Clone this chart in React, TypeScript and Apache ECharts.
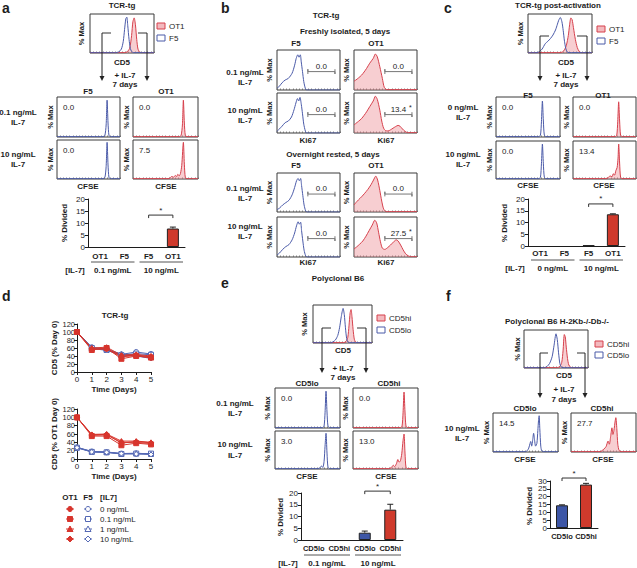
import React, { useEffect, useRef } from "react";
import * as echarts from "echarts";

const FONT = "'Liberation Sans', Arial, Helvetica, sans-serif";
const INK = "#1c1c1c";
const HIST_BLUE = "#4a5aa8";
const HIST_RED = "#d6404c";
const HIST_FILL = "rgba(233,128,136,0.55)";
const BAR_RED = "#cf3a2c";
const BAR_BLUE = "#3d56a6";
const MARK_RED = "#d7352d";
const MARK_BLUE = "#5468b4";

type Pt = [number, number];

// ================= Panel a =================
const aCd5F5: Pt[] = [[0,1],[40,1],[45,3],[49,10],[52,30],[54,60],[56,88],[57.5,92],[59,70],[61,35],[63,12],[65,4],[68,1],[100,1]];
const aCd5Ot1: Pt[] = [[0,1],[54,1],[58,3],[62,12],[65,45],[67,80],[69,90],[71,72],[73,35],[75,10],[78,2],[82,1],[100,1]];
const aCfseF5Low: Pt[] = [[0,1],[73,1],[76,4],[78,30],[79.5,92],[81,35],[82.5,4],[85,1],[100,1]];
const aCfseOt1Low: Pt[] = [[0,1],[71,1],[74,4],[76,30],[77.5,92],[79,35],[80.5,4],[83,1],[100,1]];
const aCfseF5High: Pt[] = [[0,1],[73,1],[76,4],[78,32],[79.5,94],[81,36],[82.5,4],[85,1],[100,1]];
const aCfseOt1High: Pt[] = [[0,1],[54,1],[57,3],[60,7],[62,4],[65,9],[67,6],[69,12],[71,8],[73,14],[75,35],[77.5,94],[79,38],[80.5,4],[83,1],[100,1]];
const aPercents = ["0.0", "0.0", "0.0", "7.5"];
const aBarCats = ["OT1", "F5", "F5", "OT1"];
const aBarValues = [0, 0, 0, 7.7];
const aBarErrors = [0, 0, 0, 0.6];
const aGroups = ["0.1 ng/mL", "10 ng/mL"];

// ================= Panel b =================
const bFreshF5Low: Pt[] = [[0,5],[3,8],[8,18],[13,25],[18,29],[24,42],[28,62],[30.5,79],[33,88],[35,82],[37,88],[38.5,70],[40.5,46],[42.5,21],[45,4],[47,0],[100,0]];
const bFreshF5High: Pt[] = [[0,4],[3,9],[8,17],[13,26],[18,30],[23,40],[27,58],[30,75],[32.5,86],[34.5,80],[36.5,89],[38.5,72],[40.5,48],[42.5,22],[45,5],[47,0],[100,0]];
const bFreshOt1Low: Pt[] = [[0,22],[3,25],[7,30],[12,37],[16,45],[20,54],[25,67],[30.5,79],[34,90],[37,83],[41,58],[45,29],[48,7],[52,1],[100,1]];
const bFreshOt1High: Pt[] = [[0,20],[3,24],[7,29],[12,36],[16,44],[20,53],[25,66],[30.5,80],[34,92],[37,84],[41,57],[44,30],[47,12],[50,6],[54,5],[58,8],[62,12],[66,16],[70,19],[73,17],[77,10],[81,4],[85,1],[100,1]];
const bRestF5Low: Pt[] = [[0,6],[4,10],[9,18],[14,24],[19,30],[24,44],[28,63],[31,80],[33.5,86],[35.5,80],[37.5,86],[39,68],[41,42],[43,18],[45.5,3],[48,0],[100,0]];
const bRestF5High: Pt[] = [[0,5],[4,10],[9,19],[14,26],[19,31],[24,43],[28,60],[31,78],[33.5,88],[35.5,82],[37.5,87],[39,66],[41,40],[43,17],[45.5,3],[48,0],[100,0]];
const bRestOt1Low: Pt[] = [[0,18],[3,24],[7,31],[12,39],[17,48],[22,58],[27,70],[31,82],[34.5,92],[37.5,82],[41,55],[44,28],[47,8],[51,1],[100,1]];
const bRestOt1High: Pt[] = [[0,20],[4,25],[9,32],[14,40],[19,52],[24,66],[29,80],[33,92],[36,85],[39,62],[42,38],[45,22],[49,19],[53,23],[58,30],[63,38],[67,43],[70,40],[74,30],[78,18],[82,8],[86,3],[90,1],[100,1]];
const bGate = [49, 92, 46];
const bFreshPercents = ["0.0", "0.0", "0.0", "13.4"];
const bRestPercents = ["0.0", "0.0", "0.0", "27.5"];

// ================= Panel c =================
const cCd5F5: Pt[] = [[0,1],[14,1],[18,4],[22,10],[27,24],[31,30],[35,37],[39,46],[43,59],[46,74],[48,84],[50.5,91],[53,80],[55,58],[57,30],[59,12],[61,3],[64,1],[100,1]];
const cCd5Ot1: Pt[] = [[0,1],[50,1],[54,3],[57,8],[60,20],[63,45],[65,72],[67,90],[69,85],[71,65],[74,35],[77,14],[80,4],[83,1],[100,1]];
const cCfseF5Low: Pt[] = [[0,1],[67,1],[69.5,5],[71,38],[72.5,90],[74,40],[75.5,5],[78,1],[100,1]];
const cCfseOt1Low: Pt[] = [[0,1],[67,1],[69.5,5],[71,38],[72.5,88],[74,40],[75.5,5],[78,1],[100,1]];
const cCfseF5High: Pt[] = [[0,1],[67,1],[69.5,5],[71,40],[72.5,92],[74,40],[75.5,5],[78,1],[100,1]];
const cCfseOt1High: Pt[] = [[0,1],[52,1],[56,4],[59,8],[62,6],[64,14],[66,10],[68,22],[70,30],[71.5,55],[72.5,92],[74,42],[75.5,5],[78,1],[100,1]];
const cPercents = ["0.0", "0.0", "0.0", "13.4"];
const cBarCats = ["OT1", "F5", "F5", "OT1"];
const cBarValues = [0, 0, 0.3, 13.5];
const cBarErrors = [0, 0, 0, 0.2];
const cGroups = ["0 ng/mL", "10 ng/mL"];

// ================= Panel d =================
const dDays = [0, 1, 2, 3, 4, 5];
const dTopOt1At0 = [100, 57, 58, 40, 42, 38];
const dTopOt1At01 = [100, 55, 60, 33, 40, 36];
const dTopOt1At1 = [100, 60, 62, 42, 44, 40];
const dTopOt1At10 = [100, 58, 57, 38, 41, 35];
const dTopF5At0 = [100, 62, 56, 44, 50, 45];
const dTopF5At01 = [100, 60, 55, 42, 46, 43];
const dTopF5At1 = [100, 61, 57, 45, 42, 38];
const dTopF5At10 = [100, 59, 54, 43, 40, 34];
const dBotOt1At0 = [100, 57, 58, 40, 40, 37];
const dBotOt1At01 = [100, 55, 55, 33, 38, 35];
const dBotOt1At1 = [100, 59, 60, 43, 43, 40];
const dBotOt1At10 = [100, 58, 59, 38, 42, 39];
const dBotF5At0 = [28, 18, 16, 13, 13, 12];
const dBotF5At01 = [27, 17, 16, 12, 13, 13];
const dBotF5At1 = [28, 18, 17, 13, 14, 12];
const dBotF5At10 = [27, 17, 16, 13, 12, 11];
const dDoses = ["0 ng/mL", "0.1 ng/mL", "1 ng/mL", "10 ng/mL"];
const dSymbols = ["circle", "rect", "triangle", "diamond"];

// ================= Panel e =================
const eCd5Lo: Pt[] = [[0,1],[30,1],[34,3],[38,8],[42,20],[45,40],[48,70],[51,91],[53,75],[55,40],[57,12],[59,3],[62,1],[100,1]];
const eCd5Hi: Pt[] = [[0,1],[52,1],[56,4],[59,15],[61,45],[63,80],[64.5,88],[66,70],[68,35],[70,10],[72,3],[75,1],[100,1]];
const eCfseLoLow: Pt[] = [[0,1],[73,1],[75.5,5],[77,38],[78.5,92],[80,40],[81.5,5],[84,1],[100,1]];
const eCfseHiLow: Pt[] = [[0,1],[73,1],[75.5,5],[77,38],[78.5,90],[80,40],[81.5,5],[84,1],[100,1]];
const eCfseLoHigh: Pt[] = [[0,1],[66,1],[69,3],[71.5,8],[73.5,4],[75.5,20],[77,60],[78.5,94],[80,42],[81.5,5],[84,1],[100,1]];
const eCfseHiHigh: Pt[] = [[0,1],[55,1],[59,4],[62,10],[64,6],[67,15],[69,25],[71,18],[73,22],[75,40],[77,75],[78.5,92],[80,42],[81.5,5],[84,1],[100,1]];
const ePercents = ["0.0", "0.0", "3.0", "13.0"];
const eBarCats = ["CD5lo", "CD5hi", "CD5lo", "CD5hi"];
const eBarValues = [0, 0, 3.1, 12.9];
const eBarErrors = [0, 0, 0.7, 2.3];
const eGroups = ["0.1 ng/mL", "10 ng/mL"];

// ================= Panel f =================
const fCd5Lo: Pt[] = [[0,1],[32,1],[36,4],[40,12],[44,30],[47,60],[50,90],[52,75],[54,40],[56,12],[58,3],[61,1],[100,1]];
const fCd5Hi: Pt[] = [[0,1],[52,1],[56,4],[59,15],[61,45],[63,88],[64.5,82],[66,55],[68,25],[70,8],[73,2],[76,1],[100,1]];
const fCfseLo: Pt[] = [[0,1],[50,1],[53,4],[55,10],[57,22],[58,27],[59.5,15],[61,30],[62.5,48],[64,30],[65.5,15],[67.5,22],[69,55],[70,80],[71,93],[72,60],[73.5,15],[75,3],[78,1],[100,1]];
const fCfseHi: Pt[] = [[0,1],[45,1],[48,4],[51,8],[54,14],[57,28],[59,20],[61,40],[63,62],[64.5,45],[66,55],[68,80],[69,88],[70.5,60],[72,20],[74,4],[77,1],[100,1]];
const fPercents = ["14.5", "27.7"];
const fBarCats = ["CD5lo", "CD5hi"];
const fBarValues = [14.5, 27.7];
const fBarErrors = [0.3, 0.8];

type Box = { l: number; t: number; w: number; h: number };

function buildOption() {
  const grids: any[] = [];
  const xAxis: any[] = [];
  const yAxis: any[] = [];
  const series: any[] = [];
  const g: any[] = [];

  const txt = (x: number, y: number, text: string, o: any = {}) => {
    const align = o.align ?? "center";
    g.push({
      type: "text", x, y, z: 100, silent: true,
      rotation: o.rot ? Math.PI / 2 : 0,
      style: {
        text, fill: o.color ?? INK, fontSize: o.size ?? 8,
        fontWeight: o.bold === false ? "normal" : "bold", fontFamily: FONT,
        align, textAlign: align, verticalAlign: "middle", textVerticalAlign: "middle",
      },
    });
  };
  const ln = (x1: number, y1: number, x2: number, y2: number, color = INK, w = 1) =>
    g.push({ type: "line", z: 100, silent: true, shape: { x1, y1, x2, y2 }, style: { stroke: color, lineWidth: w } });
  const poly = (points: number[][], fill: string) =>
    g.push({ type: "polygon", z: 100, silent: true, shape: { points }, style: { fill } });
  const rect = (x: number, y: number, w: number, h: number, fill: string, stroke: string) =>
    g.push({ type: "rect", z: 100, silent: true, shape: { x, y, width: w, height: h }, style: { fill, stroke, lineWidth: 1 } });

  const addHist = (box: Box, curves: { data: Pt[]; red: boolean }[], gate?: number[], maxOffset = 7) => {
    const gi = grids.length;
    grids.push({ left: box.l, top: box.t, width: box.w, height: box.h, show: true, borderColor: "#3a3a3a", borderWidth: 1, backgroundColor: "transparent" });
    xAxis.push({
      gridIndex: gi, type: "value", min: 0, max: 100, interval: 5,
      axisLine: { show: false }, axisLabel: { show: false }, splitLine: { show: false },
      axisTick: { show: true, inside: true, length: 1.5, lineStyle: { color: "#666", width: 0.8 } },
    });
    yAxis.push({ gridIndex: gi, type: "value", min: 0, max: 100, show: false });
    curves.forEach((c) => {
      series.push({
        type: "line", xAxisIndex: gi, yAxisIndex: gi, data: c.data, symbol: "none", smooth: 0.25, silent: true,
        lineStyle: { color: c.red ? HIST_RED : HIST_BLUE, width: 1 },
        areaStyle: c.red ? { color: HIST_FILL, origin: "start" } : undefined,
      });
    });
    if (gate) {
      const [g0, g1, lv] = gate;
      series.push({
        type: "line", xAxisIndex: gi, yAxisIndex: gi, symbol: "none", silent: true,
        lineStyle: { color: "#777", width: 1 },
        data: [[g0, lv - 6], [g0, lv + 6], [g0, lv], [g1, lv], [g1, lv - 6], [g1, lv + 6]],
      });
    }
    txt(box.l - maxOffset, box.t + box.h / 2, "% Max", { rot: true, size: 7.5 });
  };

  const pctTopLeft = (box: Box, s: string) => txt(box.l + 6, box.t + 10, s, { align: "left", bold: false, size: 8 });
  const pctGate = (box: Box, s: string, star: boolean) => {
    const [g0, g1, lv] = bGate;
    const x = box.l + box.w * ((g0 + g1) / 2) / 100;
    const y = box.t + box.h * (1 - (lv + 14) / 100);
    txt(x, y, s, { bold: false, size: 8 });
    if (star) txt(x + 12, y - 2, "*", { bold: false, size: 7 });
  };

  const errRender = (params: any, api: any) => {
    const i = api.value(0), v = api.value(1), e = api.value(2);
    const children: any[] = [];
    if (e > 0) {
      const p0 = api.coord([i, v]);
      const p1 = api.coord([i, v + e]);
      children.push({ type: "line", shape: { x1: p0[0], y1: p0[1], x2: p1[0], y2: p1[1] }, style: { stroke: "#222", lineWidth: 1 } });
      children.push({ type: "line", shape: { x1: p1[0] - 3, y1: p1[1], x2: p1[0] + 3, y2: p1[1] }, style: { stroke: "#222", lineWidth: 1 } });
    }
    return { type: "group", children };
  };

  const addBar = (box: Box, cats: string[], vals: number[], errs: number[], colors: string[], ymax: number, margin: number, catSize = 8) => {
    const gi = grids.length;
    grids.push({ left: box.l, top: box.t, width: box.w, height: box.h });
    xAxis.push({
      gridIndex: gi, type: "category", data: cats,
      axisLine: { lineStyle: { color: INK, width: 1 } }, axisTick: { show: false },
      axisLabel: { interval: 0, fontSize: catSize, fontWeight: "bold", color: INK, fontFamily: FONT, margin },
    });
    yAxis.push({
      gridIndex: gi, type: "value", min: 0, max: ymax, interval: 5,
      axisLine: { show: true, lineStyle: { color: INK } }, axisTick: { show: true, length: 3, lineStyle: { color: INK } },
      splitLine: { show: false }, axisLabel: { fontSize: 8, color: INK, fontFamily: FONT, margin: 3 },
    });
    series.push({
      type: "bar", xAxisIndex: gi, yAxisIndex: gi, barWidth: 12, silent: true,
      data: vals.map((v, i) => ({ value: v, itemStyle: { color: colors[i], borderColor: "#222", borderWidth: v > 0 ? 1 : 0 } })),
    });
    series.push({
      type: "custom", xAxisIndex: gi, yAxisIndex: gi, silent: true, z: 5,
      data: vals.map((v, i) => [i, v, errs[i]]), renderItem: errRender,
    });
  };

  const catX = (box: Box, n: number, i: number) => box.l + ((i + 0.5) * box.w) / n;
  const bracket = (box: Box, n: number, i1: number, i2: number, level: number, ymax: number) => {
    const x1 = catX(box, n, i1), x2 = catX(box, n, i2);
    const y = box.t + box.h * (1 - level / ymax);
    ln(x1, y + 3, x1, y, "#333");
    ln(x1, y, x2, y, "#333");
    ln(x2, y, x2, y + 3, "#333");
    txt((x1 + x2) / 2, y - 5, "*", { bold: false, size: 8 });
  };
  const groups = (box: Box, n: number, labels: string[], dy: number) => {
    const cw = box.w / n;
    const y = box.t + box.h + dy;
    labels.forEach((lab, k) => {
      const a = box.l + k * 2 * cw + 3, b = box.l + (k * 2 + 2) * cw - 2;
      ln(a, y, b, y, "#555");
      txt((a + b) / 2, y + 8, lab);
    });
    txt(box.l - 13, y + 8, "[IL-7]");
  };

  const gateArrows = (xl: number, xle: number, xrs: number, xr: number, y: number, tip: number) => {
    ln(xl, y, xle, y, "#333"); ln(xl, y, xl, tip - 4, "#222");
    poly([[xl - 2.5, tip - 5], [xl + 2.5, tip - 5], [xl, tip]], "#222");
    ln(xrs, y, xr, y, "#333"); ln(xr, y, xr, tip - 4, "#222");
    poly([[xr - 2.5, tip - 5], [xr + 2.5, tip - 5], [xr, tip]], "#222");
  };
  const legend2 = (x: number, y1: number, y2: number, redLabel: string, blueLabel: string) => {
    rect(x, y1, 8, 6, HIST_FILL, HIST_RED);
    rect(x, y2, 8, 6, "#fff", HIST_BLUE);
    txt(x + 12, y1 + 3, redLabel, { align: "left", bold: false });
    txt(x + 12, y2 + 3, blueLabel, { align: "left", bold: false });
  };

  // ---------------- Panel a ----------------
  txt(2, 8, "a", { align: "left", size: 14 });
  txt(122, 5, "TCR-tg");
  addHist({ l: 90, t: 14, w: 64, h: 39 }, [{ data: aCd5Ot1, red: true }, { data: aCd5F5, red: false }], undefined, 9);
  legend2(157, 23, 35, "OT1", "F5");
  txt(122, 62, "CD5");
  gateArrows(102, 111, 138, 147, 33, 81);
  txt(125, 75, "+ IL-7"); txt(125, 84, "7 days");
  txt(88, 91, "F5"); txt(166, 91, "OT1");
  const aBoxes: Box[] = [
    { l: 57, t: 97, w: 63, h: 40 }, { l: 133, t: 97, w: 65, h: 40 },
    { l: 57, t: 140, w: 63, h: 39 }, { l: 133, t: 140, w: 65, h: 39 },
  ];
  const aCurves = [aCfseF5Low, aCfseOt1Low, aCfseF5High, aCfseOt1High];
  aBoxes.forEach((b, i) => { addHist(b, [{ data: aCurves[i], red: i % 2 === 1 }]); pctTopLeft(b, aPercents[i]); });
  txt(18, 112, "0.1 ng/mL"); txt(18, 122, "IL-7");
  txt(18, 154, "10 ng/mL"); txt(18, 164, "IL-7");
  txt(88, 186, "CFSE"); txt(166, 186, "CFSE");
  const aBar: Box = { l: 88, t: 199, w: 97, h: 48 };
  addBar(aBar, aBarCats, aBarValues, aBarErrors, [BAR_RED, BAR_BLUE, BAR_BLUE, BAR_RED], 20, 5);
  txt(64, 223, "% Divided", { rot: true });
  bracket(aBar, 4, 2, 3, 13.3, 20);
  groups(aBar, 4, aGroups, 15);

  // ---------------- Panel b ----------------
  txt(221, 8, "b", { align: "left", size: 14 });
  txt(326, 15, "TCR-tg");
  txt(345, 31, "Freshly isolated, 5 days");
  txt(296, 43, "F5"); txt(376, 43, "OT1");
  const bFreshBoxes: Box[] = [
    { l: 277, t: 50, w: 63, h: 40 }, { l: 354, t: 50, w: 63, h: 40 },
    { l: 277, t: 93, w: 63, h: 40 }, { l: 354, t: 93, w: 63, h: 40 },
  ];
  const bFreshCurves = [bFreshF5Low, bFreshOt1Low, bFreshF5High, bFreshOt1High];
  bFreshBoxes.forEach((b, i) => {
    addHist(b, [{ data: bFreshCurves[i], red: i % 2 === 1 }], bGate, 8);
    pctGate(b, bFreshPercents[i], i === 3);
  });
  txt(245, 72, "0.1 ng/mL"); txt(245, 82, "IL-7");
  txt(245, 110, "10 ng/mL"); txt(245, 120, "IL-7");
  txt(308, 140, "Ki67"); txt(386, 140, "Ki67");
  txt(333, 154, "Overnight rested, 5 days");
  txt(296, 165, "F5"); txt(376, 165, "OT1");
  const bRestBoxes: Box[] = [
    { l: 277, t: 173, w: 63, h: 39 }, { l: 354, t: 173, w: 63, h: 39 },
    { l: 277, t: 217, w: 63, h: 40 }, { l: 354, t: 217, w: 63, h: 40 },
  ];
  const bRestCurves = [bRestF5Low, bRestOt1Low, bRestF5High, bRestOt1High];
  bRestBoxes.forEach((b, i) => {
    addHist(b, [{ data: bRestCurves[i], red: i % 2 === 1 }], bGate, 8);
    pctGate(b, bRestPercents[i], i === 3);
  });
  txt(245, 188, "0.1 ng/mL"); txt(245, 198, "IL-7");
  txt(245, 226, "10 ng/mL"); txt(245, 236, "IL-7");
  txt(308, 262, "Ki67"); txt(386, 262, "Ki67");

  // ---------------- Panel c ----------------
  txt(444, 8, "c", { align: "left", size: 14 });
  txt(558, 5, "TCR-tg post-activation");
  addHist({ l: 528, t: 14, w: 64, h: 39 }, [{ data: cCd5Ot1, red: true }, { data: cCd5F5, red: false }], undefined, 8);
  legend2(597, 26, 38, "OT1", "F5");
  txt(566, 62, "CD5");
  gateArrows(540, 549, 577, 587, 36, 81);
  txt(566, 75, "+ IL-7"); txt(566, 84, "7 days");
  txt(528, 95, "F5"); txt(603, 95, "OT1");
  const cBoxes: Box[] = [
    { l: 496, t: 97, w: 64, h: 40 }, { l: 573, t: 97, w: 63, h: 40 },
    { l: 496, t: 141, w: 64, h: 38 }, { l: 573, t: 141, w: 63, h: 38 },
  ];
  const cCurves = [cCfseF5Low, cCfseOt1Low, cCfseF5High, cCfseOt1High];
  cBoxes.forEach((b, i) => { addHist(b, [{ data: cCurves[i], red: i % 2 === 1 }]); pctTopLeft(b, cPercents[i]); });
  txt(463, 107, "0 ng/mL"); txt(463, 117, "IL-7");
  txt(463, 154, "10 ng/mL"); txt(463, 164, "IL-7");
  txt(528, 185, "CFSE"); txt(604, 185, "CFSE");
  const cBar: Box = { l: 528, t: 199, w: 97, h: 47 };
  addBar(cBar, cBarCats, cBarValues, cBarErrors, [BAR_RED, BAR_BLUE, BAR_BLUE, BAR_RED], 20, 3);
  txt(504, 223, "% Divided", { rot: true });
  bracket(cBar, 4, 2, 3, 17.9, 20);
  groups(cBar, 4, cGroups, 14);

  // ---------------- Panel d ----------------
  txt(2, 296, "d", { align: "left", size: 14 });
  txt(115, 315, "TCR-tg");
  const addLine = (box: Box, ot1: number[][], f5: number[][], yName: string) => {
    const gi = grids.length;
    grids.push({ left: box.l, top: box.t, width: box.w, height: box.h });
    xAxis.push({
      gridIndex: gi, type: "value", min: 0, max: 5, interval: 1,
      axisLine: { lineStyle: { color: INK } }, axisTick: { length: 3, lineStyle: { color: INK } },
      splitLine: { show: false }, axisLabel: { fontSize: 8, color: INK, fontFamily: FONT, margin: 3 },
    });
    yAxis.push({
      gridIndex: gi, type: "value", min: 0, max: 120, interval: 20,
      axisLine: { show: true, lineStyle: { color: INK } }, axisTick: { show: true, length: 3, lineStyle: { color: INK } },
      splitLine: { show: false }, axisLabel: { fontSize: 7.5, color: INK, fontFamily: FONT, margin: 2 },
    });
    f5.forEach((vals, k) => series.push({
      type: "line", xAxisIndex: gi, yAxisIndex: gi, silent: true,
      data: dDays.map((d, j) => [d, vals[j]]), symbol: dSymbols[k], symbolSize: 5,
      lineStyle: { color: MARK_BLUE, width: 1 },
      itemStyle: { color: "#fff", borderColor: MARK_BLUE, borderWidth: 1 },
    }));
    ot1.forEach((vals, k) => series.push({
      type: "line", xAxisIndex: gi, yAxisIndex: gi, silent: true,
      data: dDays.map((d, j) => [d, vals[j]]), symbol: dSymbols[k], symbolSize: 5,
      lineStyle: { color: MARK_RED, width: 1 },
      itemStyle: { color: MARK_RED, borderColor: MARK_RED, borderWidth: 1 },
    }));
    txt(box.l - 23, box.t + box.h / 2, yName, { rot: true });
    txt(box.l + box.w / 2, box.t + box.h + 17, "Time (Days)");
  };
  addLine({ l: 77, t: 324, w: 74, h: 48 }, [dTopOt1At0, dTopOt1At01, dTopOt1At1, dTopOt1At10], [dTopF5At0, dTopF5At01, dTopF5At1, dTopF5At10], "CD5 (% Day 0)");
  addLine({ l: 77, t: 409, w: 74, h: 50 }, [dBotOt1At0, dBotOt1At01, dBotOt1At1, dBotOt1At10], [dBotF5At0, dBotF5At01, dBotF5At1, dBotF5At10], "CD5 (% OT1 Day 0)");
  txt(70, 497, "OT1"); txt(88, 497, "F5"); txt(100, 497, "[IL7]", { align: "left" });
  const marker = (kind: string, cx: number, cy: number, filled: boolean) => {
    const color = filled ? MARK_RED : MARK_BLUE;
    const fill = filled ? MARK_RED : "#fff";
    const st = { fill, stroke: color, lineWidth: 1 };
    if (kind === "circle") g.push({ type: "circle", z: 100, silent: true, shape: { cx, cy, r: 2.5 }, style: st });
    else if (kind === "rect") g.push({ type: "rect", z: 100, silent: true, shape: { x: cx - 2.5, y: cy - 2.5, width: 5, height: 5 }, style: st });
    else if (kind === "triangle") g.push({ type: "polygon", z: 100, silent: true, shape: { points: [[cx, cy - 3], [cx + 3, cy + 2.5], [cx - 3, cy + 2.5]] }, style: st });
    else g.push({ type: "polygon", z: 100, silent: true, shape: { points: [[cx, cy - 3], [cx + 3, cy], [cx, cy + 3], [cx - 3, cy]] }, style: st });
  };
  dDoses.forEach((dose, k) => {
    const y = 509 + k * 10;
    ln(66, y, 74, y, MARK_RED); marker(dSymbols[k], 70, y, true);
    ln(84, y, 92, y, MARK_BLUE); marker(dSymbols[k], 88, y, false);
    txt(100, y, dose, { align: "left", bold: false });
  });

  // ---------------- Panel e ----------------
  txt(221, 283, "e", { align: "left", size: 14 });
  txt(338, 278, "Polyclonal B6");
  addHist({ l: 313, t: 305, w: 59, h: 38 }, [{ data: eCd5Hi, red: true }, { data: eCd5Lo, red: false }], undefined, 9);
  legend2(377, 315, 327, "CD5hi", "CD5lo");
  txt(343, 350, "CD5");
  gateArrows(322, 331, 357, 366, 328, 373);
  txt(343, 368, "+ IL-7"); txt(343, 377, "7 days");
  txt(307, 383, "CD5lo"); txt(389, 383, "CD5hi");
  const eBoxes: Box[] = [
    { l: 275, t: 388, w: 65, h: 40 }, { l: 353, t: 388, w: 65, h: 40 },
    { l: 275, t: 431, w: 65, h: 38 }, { l: 353, t: 431, w: 65, h: 38 },
  ];
  const eCurves = [eCfseLoLow, eCfseHiLow, eCfseLoHigh, eCfseHiHigh];
  eBoxes.forEach((b, i) => { addHist(b, [{ data: eCurves[i], red: i % 2 === 1 }], undefined, 8); pctTopLeft(b, ePercents[i]); });
  txt(235, 403, "0.1 ng/mL"); txt(235, 413, "IL-7");
  txt(235, 444, "10 ng/mL"); txt(235, 455, "IL-7");
  txt(307, 476, "CFSE"); txt(386, 476, "CFSE");
  const eBar: Box = { l: 301, t: 493, w: 102, h: 47 };
  addBar(eBar, eBarCats, eBarValues, eBarErrors, [BAR_BLUE, BAR_RED, BAR_BLUE, BAR_RED], 20, 4, 7.5);
  txt(280, 517, "% Divided", { rot: true });
  bracket(eBar, 4, 2, 3, 20.8, 20);
  groups(eBar, 4, eGroups, 15);

  // ---------------- Panel f ----------------
  txt(446, 296, "f", { align: "left", size: 14 });
  txt(557, 321, "Polyclonal B6 H-2Kb-/-Db-/-");
  addHist({ l: 524, t: 330, w: 64, h: 38 }, [{ data: fCd5Hi, red: true }, { data: fCd5Lo, red: false }], undefined, 7);
  legend2(595, 341, 352, "CD5hi", "CD5lo");
  txt(564, 375, "CD5");
  gateArrows(540, 548, 577, 585, 353, 398);
  txt(564, 389, "+ IL-7"); txt(564, 399, "7 days");
  txt(525, 408, "CD5lo"); txt(602, 408, "CD5hi");
  const fBoxes: Box[] = [{ l: 493, t: 413, w: 65, h: 39 }, { l: 571, t: 413, w: 65, h: 39 }];
  const fCurves = [fCfseLo, fCfseHi];
  fBoxes.forEach((b, i) => { addHist(b, [{ data: fCurves[i], red: i === 1 }], undefined, 7); pctTopLeft(b, fPercents[i]); });
  txt(462, 428, "10 ng/mL"); txt(462, 438, "IL-7");
  txt(525, 459, "CFSE"); txt(603, 459, "CFSE");
  const fBar: Box = { l: 550, t: 481, w: 48, h: 47 };
  addBar(fBar, fBarCats, fBarValues, fBarErrors, [BAR_BLUE, BAR_RED], 30, 4, 7.5);
  txt(529, 506, "% Divided", { rot: true });
  bracket(fBar, 2, 0, 1, 31.9, 30);

  return {
    animation: false,
    backgroundColor: "#fff",
    textStyle: { fontFamily: FONT },
    grid: grids,
    xAxis,
    yAxis,
    series,
    graphic: { elements: g },
  };
}

export default function App() {
  const ref = useRef<HTMLDivElement>(null);
  useEffect(() => {
    if (!ref.current) return;
    const chart = echarts.init(ref.current, null, { renderer: "svg" });
    chart.setOption(buildOption());
    return () => chart.dispose();
  }, []);
  return (
    <div
      ref={ref}
      style={{ position: "fixed", left: 0, top: 0, width: 637, height: 568, background: "#fff" }}
    />
  );
}
